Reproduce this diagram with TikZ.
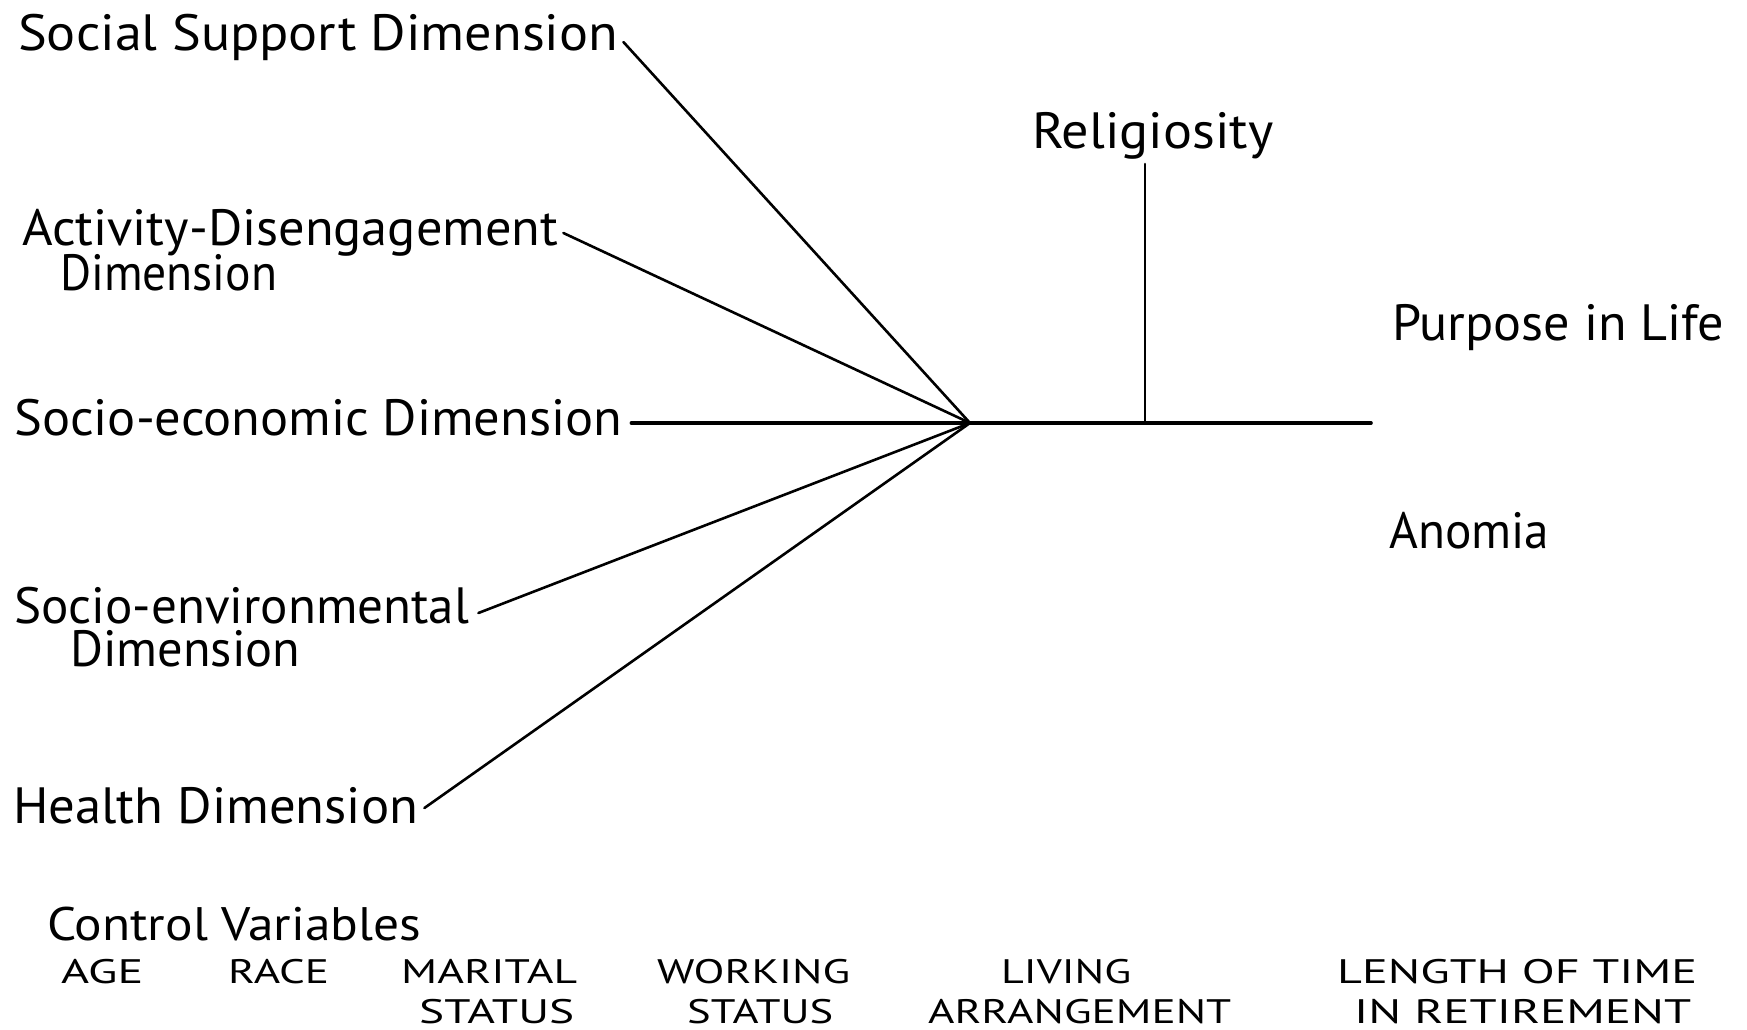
\documentclass[tikz,border=0pt]{standalone}
\usepackage{fontspec}
\setmainfont{PT Sans}
\usepackage{graphicx}
\newcommand\myfit[2]{\setbox0=\hbox{#2}\dimen0=\wd0\pgfmathsetmacro\myratio{#1/\the\dimen0}\scalebox{\myratio}[1]{\box0}}
\tikzset{
  lbl/.style={inner sep=0pt, anchor=base west, font=\fontsize{51}{60}\selectfont},
  ctl/.style={inner sep=0pt, anchor=base west, font=\fontsize{47}{56}\selectfont},
  upr/.style={inner sep=0pt, anchor=base west, font=\fontsize{34}{40}\selectfont},
  spoke/.style={line width=2.6pt, line cap=round, line join=round},
  trunk/.style={line width=3.6pt, line cap=round}
}
\begin{document}
\begin{tikzpicture}[x=1pt, y=-1pt]
\useasboundingbox[fill=white] (0,0) rectangle (1747,1029);

% left labels
\node[lbl] (ss)   at (18,50)  {\myfit{600}{Social Support Dimension}};
\node[lbl] (act)  at (22,245) {\myfit{536}{Activity-Disengagement}};
\node[lbl] (act2) at (60,290) {\myfit{217}{Dimension}};
\node[lbl] (se)   at (14,435) {\myfit{608}{Socio-economic Dimension}};
\node[lbl] (env)  at (14,623) {\myfit{455}{Socio-environmental}};
\node[lbl] (env2) at (70,666) {\myfit{230}{Dimension}};
\node[lbl] (hl)   at (13,823) {\myfit{405}{Health Dimension}};

% right labels
\node[lbl] (rel) at (1032,148) {\myfit{241}{Religiosity}};
\node[lbl] (pil) at (1392,340) {\myfit{332}{Purpose in Life}};
\node[lbl] (ano) at (1389,548) {\myfit{160}{Anomia}};

% control variables
\node[ctl] (cv) at (47,940) {\myfit{374}{Control Variables}};
\node[upr] (age)  at (61,983)   {\myfit{82}{AGE}};
\node[upr] (race) at (228,983)  {\myfit{101}{RACE}};
\node[upr] (mar)  at (401,983)  {\myfit{176}{MARITAL}};
\node[upr] (mar2) at (419,1023) {\myfit{155}{STATUS}};
\node[upr] (wrk)  at (657,983)  {\myfit{193}{WORKING}};
\node[upr] (wrk2) at (687,1023) {\myfit{146}{STATUS}};
\node[upr] (liv)  at (1001,983) {\myfit{130}{LIVING}};
\node[upr] (liv2) at (928,1023) {\myfit{303}{ARRANGEMENT}};
\node[upr] (len)  at (1337,983) {\myfit{360}{LENGTH OF TIME}};
\node[upr] (len2) at (1354,1023){\myfit{337}{IN RETIREMENT}};

% connectors
\coordinate (hub)  at (970,423);
\coordinate (join) at (1145,423);
\coordinate (hend) at (1371,423);

\draw[spoke] ([shift={(5,-8)}]ss.base east)   -- (hub);
\draw[spoke] ([shift={(5,-12)}]act.base east) -- (hub);
\draw[trunk] ([shift={(9,-12)}]se.base east)  -- (hub);
\draw[spoke] ([shift={(9,-10)}]env.base east) -- (hub);
\draw[spoke] ([shift={(6,-15)}]hl.base east)  -- (hub);
\draw[trunk] (hub) -- (hend);
\draw[spoke] (join) -- ([yshift=-5pt]join |- rel.south);
\end{tikzpicture}
\end{document}
